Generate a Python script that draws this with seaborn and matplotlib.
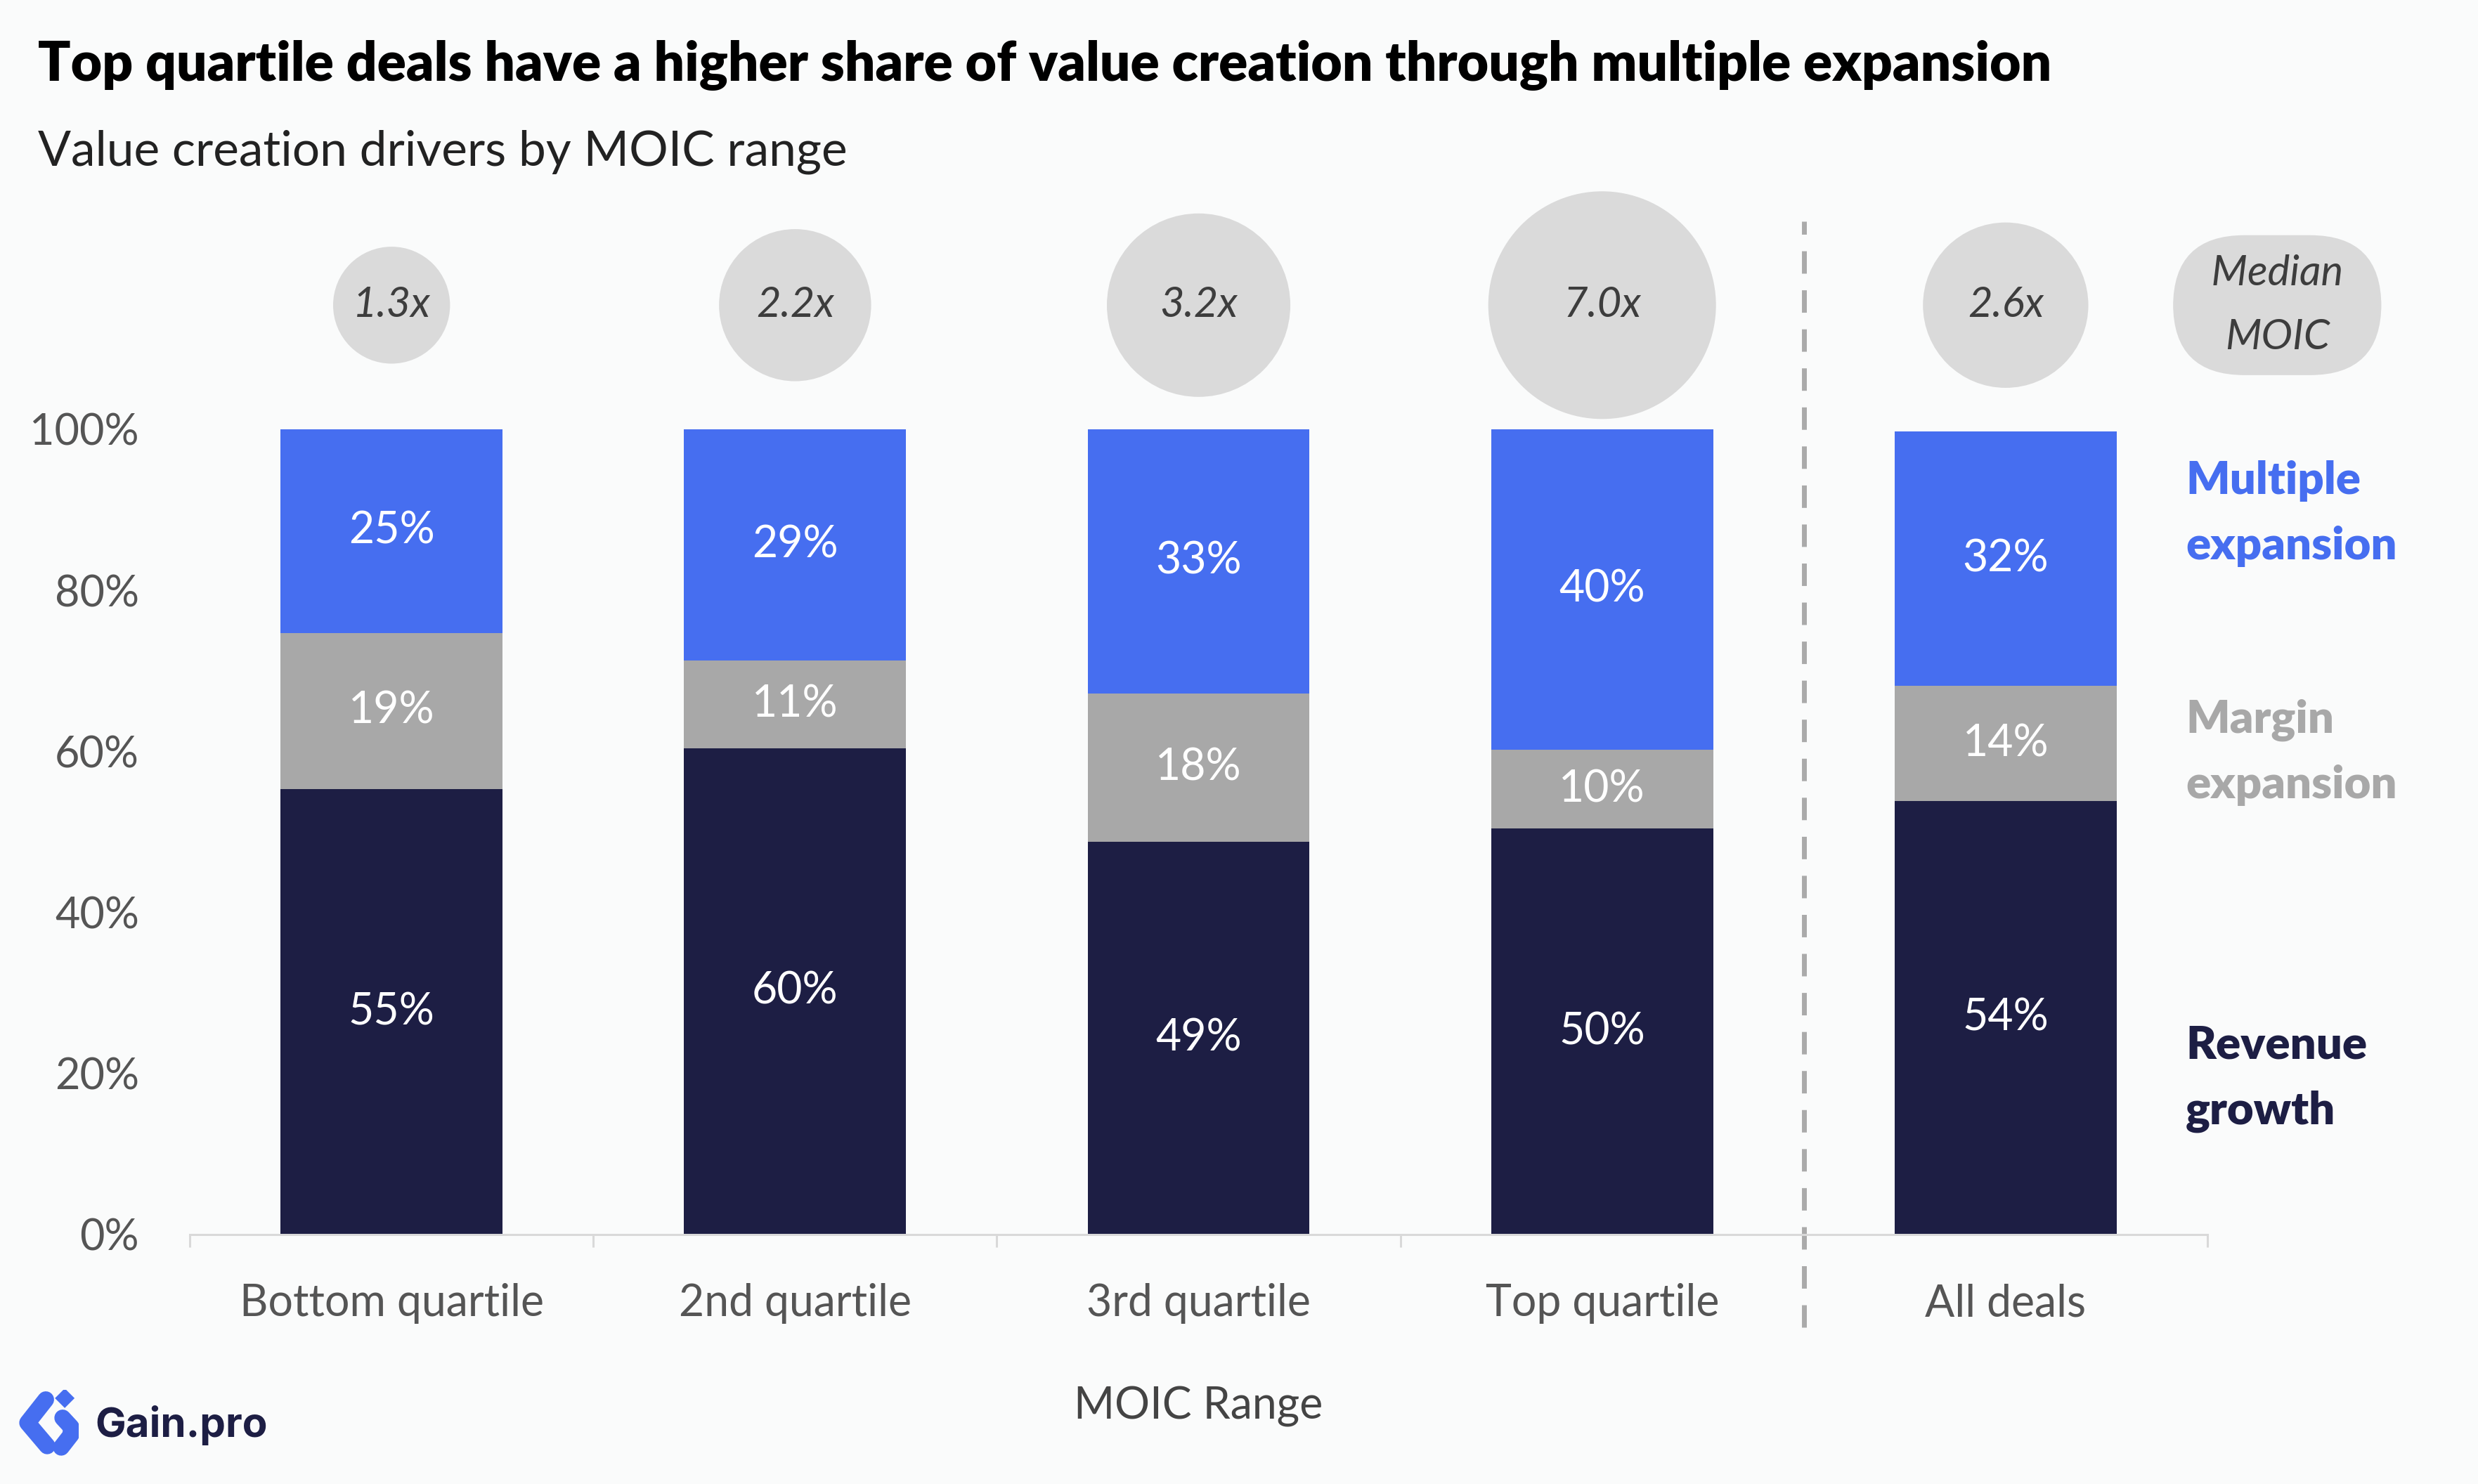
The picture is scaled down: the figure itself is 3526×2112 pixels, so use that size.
import numpy as np
import seaborn as sns
import matplotlib.pyplot as plt
from matplotlib.ticker import FixedLocator

# data
categories = ["Bottom quartile", "2nd quartile", "3rd quartile", "Top quartile", "All deals"]
revenue_growth = [55.3, 60.4, 48.8, 50.4, 53.8]
margin_expansion = [19.4, 10.9, 18.4, 9.8, 14.3]
multiple_expansion = [25.3, 28.7, 32.8, 39.8, 31.6]
median_moic = [1.3, 2.2, 3.2, 7.0, 2.6]

BLUE = "#466EF0"
GREY = "#A8A8A8"
NAVY = "#1D1E44"
BUBBLE = "#DADADA"
BG = "#FAFBFB"

sns.set_theme(style="white")
plt.rcParams["font.family"] = ["Lato", "DejaVu Sans"]

fig = plt.figure(figsize=(17.63, 10.56), dpi=200, facecolor=BG)
ax = fig.add_axes([0.0766, 0.1681, 0.8142, 0.7055], facecolor=BG)

rev = np.array(revenue_growth)
mar = np.array(margin_expansion)
mul = np.array(multiple_expansion)

# stacked bars drawn as cumulative layers
for top, col in [(rev + mar + mul, BLUE), (rev + mar, GREY), (rev, NAVY)]:
    sns.barplot(x=categories, y=top, color=col, saturation=1, width=0.55,
                linewidth=0, ax=ax)

for i in range(len(categories)):
    for bottom, h in [(0, rev[i]), (rev[i], mar[i]), (rev[i] + mar[i], mul[i])]:
        ax.text(i, bottom + h / 2, f"{h:.0f}%", ha="center", va="center",
                color="white", fontsize=22.5)

# median MOIC bubbles, area ~ MOIC (capped)
bubble_y = 115.4
sizes = [2760 * min(m, 4.93) for m in median_moic]
ax.scatter(range(len(categories)), [bubble_y] * len(categories), s=sizes,
           color=BUBBLE, linewidths=0, clip_on=False, zorder=3)
for i, m in enumerate(median_moic):
    ax.text(i, bubble_y, f"{m:.1f}x", ha="center", va="center", style="italic",
            color="#3D3D3D", fontsize=21.5, zorder=4)

ax.text(4.673, bubble_y, "\u2002Median\u2002\nMOIC", ha="center", va="center",
        style="italic", color="#3D3D3D", fontsize=21.5, linespacing=1.85, zorder=4,
        bbox=dict(boxstyle="round,pad=0.45,rounding_size=1.7", fc=BUBBLE, ec="none"))

# separator before "All deals"
ax.vlines(3.5, -11.5, 125.8, colors="#AAAAAA", linewidth=2.5,
          linestyles=(0, (4.6, 3.4)), clip_on=False, zorder=1)

ax.set_xlim(-0.5, 4.5)
ax.set_ylim(0, 130)
ax.set_yticks([0, 20, 40, 60, 80, 100])
ax.set_yticklabels([f"{v}%" for v in [0, 20, 40, 60, 80, 100]])
ax.tick_params(axis="y", length=0, pad=26, labelsize=22, labelcolor="#555555")
ax.tick_params(axis="x", which="major", length=0, pad=25, labelsize=22.5, labelcolor="#555555")
ax.xaxis.set_minor_locator(FixedLocator(np.arange(-0.5, 5, 1)))
ax.tick_params(axis="x", which="minor", direction="out", length=6.5, width=1.1,
               color="#D9D9D9", bottom=True)
for s in ["top", "right", "left"]:
    ax.spines[s].set_visible(False)
ax.spines["bottom"].set_color("#D9D9D9")
ax.spines["bottom"].set_linewidth(1.1)
ax.set_xlabel("MOIC Range", fontsize=22.5, color="#444444", labelpad=32)
ax.set_ylabel("")

# series labels on the right
for y, txt, col in [(0.654, "Multiple\nexpansion", BLUE),
                    (0.493, "Margin\nexpansion", GREY),
                    (0.273, "Revenue\ngrowth", NAVY)]:
    fig.text(0.882, y, txt, color=col, fontsize=23.5, fontweight="heavy",
             va="center", ha="left", linespacing=1.7)

fig.text(0.0153, 0.9455, "Top quartile deals have a higher share of value creation through multiple expansion",
         fontsize=27.6, fontweight="heavy", color="black", va="baseline")
fig.text(0.0153, 0.8887, "Value creation drivers by MOIC range", fontsize=25,
         fontweight="normal", color="#222222", va="baseline")

# logo
lax = fig.add_axes([0.0077, 0.019, 0.0241, 0.0445])
lax.set_xlim(0, 85)
lax.set_ylim(94, 0)
lax.set_aspect("equal")
lax.axis("off")
lax.plot([38, 12, 40], [14, 47, 80], color=BLUE, lw=8.5, solid_capstyle="round",
         solid_joinstyle="round")
lax.plot([62, 74, 74, 60], [40, 53, 64, 82], color=BLUE, lw=8.5,
         solid_capstyle="round", solid_joinstyle="round")
lax.fill([65, 77, 65, 53], [0, 12, 24, 12], color=BLUE)
fig.text(135 / 3526, 1 - 2045 / 2112, "Gain.pro", fontsize=21, fontweight="bold",
         color=NAVY, va="baseline", family=["Inter", "DejaVu Sans"])

fig.savefig("out.png", dpi=200, facecolor=BG)
